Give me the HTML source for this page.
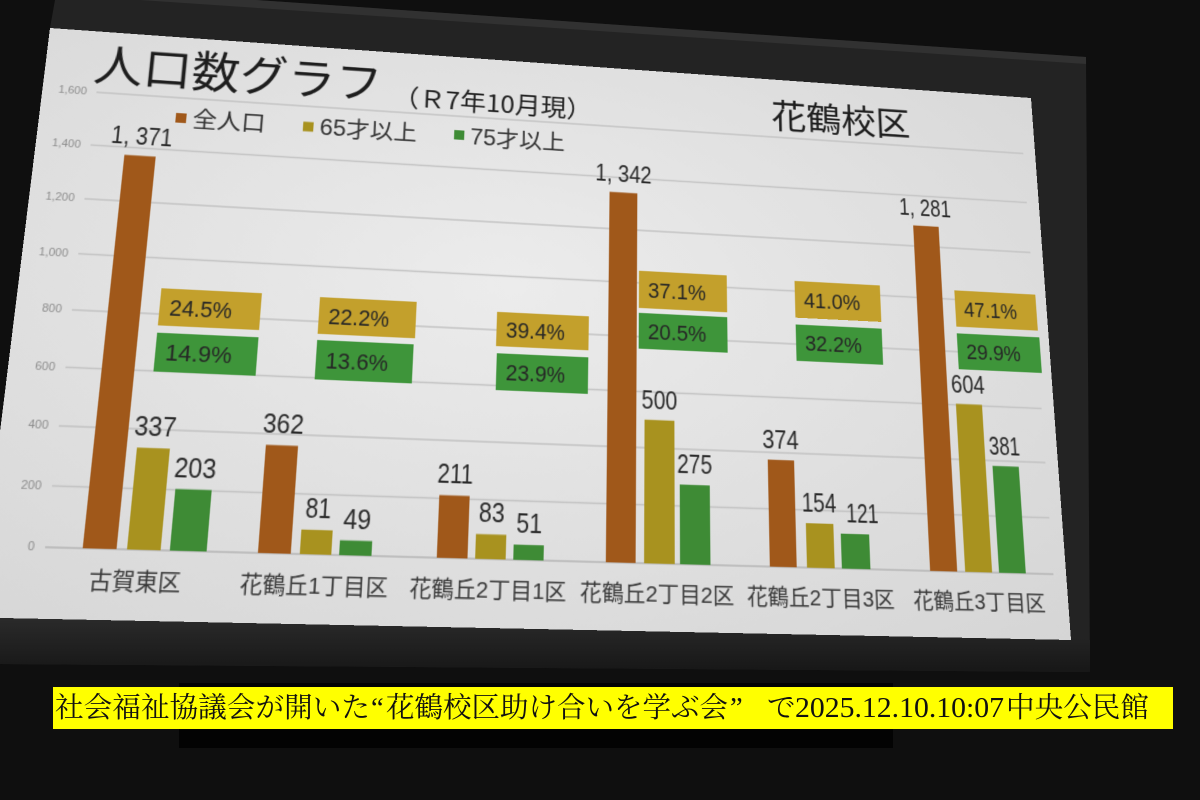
<!DOCTYPE html>
<html><head><meta charset="utf-8">
<style>
html,body{margin:0;padding:0;width:1200px;height:800px;overflow:hidden;background:#0e0e0e;}
#bg{position:absolute;left:0;top:0;}
#slide{position:absolute;left:0;top:0;width:1000px;height:562px;transform-origin:0 0;
transform:matrix3d(1.075921,0.079023,0,0.000092067,-0.125528,0.931742,0,-0.00018978,0,0,1,0,50,28,0,1);}
#slide svg{display:block;}
#cap{position:absolute;left:0;top:0;}
</style></head><body>
<svg id="bg" width="1200" height="800" xmlns="http://www.w3.org/2000/svg">
<defs>
<linearGradient id="bb" x1="0" y1="0" x2="0" y2="1">
<stop offset="0" stop-color="#2c2c2c"/><stop offset="1" stop-color="#171717"/>
</linearGradient>
</defs>
<rect width="1200" height="800" fill="#0f0f0f"/>
<polygon points="55,0 256,0 1086,57 1090,672 0,664 0,600 50,28" fill="#232323"/>
<polygon points="256,0 1086,57 1086,64 140,0" fill="#313131"/>
<polygon points="0,614 1071,636 1090,640 1090,672 0,664" fill="url(#bb)"/>
<rect x="179" y="683" width="714" height="65" fill="#030303"/>
<rect x="53" y="687" width="1120" height="42" fill="#ffff00"/>
</svg>

<div id="slide">
<svg width="1000" height="562" xmlns="http://www.w3.org/2000/svg" font-family="'Liberation Sans','Noto Sans CJK JP',sans-serif">
<defs>
<radialGradient id="sg" cx="0.45" cy="0.42" r="0.8">
<stop offset="0" stop-color="#ececec"/>
<stop offset="1" stop-color="#d5d5d5"/>
</radialGradient>
</defs>
<rect width="1000" height="562" fill="url(#sg)"/>

<g stroke="#c2c2c2" stroke-width="1.3">
<line x1="50" y1="64" x2="987" y2="64"/>
<line x1="50" y1="118.5" x2="987" y2="118.5"/>
<line x1="50" y1="173" x2="987" y2="173"/>
<line x1="50" y1="227.5" x2="987" y2="227.5"/>
<line x1="50" y1="282" x2="987" y2="282"/>
<line x1="50" y1="336.5" x2="987" y2="336.5"/>
<line x1="50" y1="391" x2="987" y2="391"/>
<line x1="50" y1="445.5" x2="987" y2="445.5"/>
<line x1="50" y1="500" x2="987" y2="500" stroke="#b4b4b4"/>
</g>

<g font-size="10.5" fill="#8c8c8c" text-anchor="end">
<text x="41" y="67.5">1,600</text>
<text x="41" y="122">1,400</text>
<text x="41" y="176.5">1,200</text>
<text x="41" y="231">1,000</text>
<text x="41" y="285.5">800</text>
<text x="41" y="340">600</text>
<text x="41" y="394.5">400</text>
<text x="41" y="449">200</text>
<text x="41" y="503.5">0</text>
</g>

<text x="45" y="51" font-size="46" fill="#1e1e1e" font-family="'Noto Sans CJK JP',sans-serif">人口数グラフ</text>
<text x="332" y="57" font-size="26" fill="#222" font-family="'Noto Sans CJK JP',sans-serif">（Ｒ7年10月現）</text>
<text x="717" y="54" font-size="37" fill="#1e1e1e" font-family="'Noto Sans CJK JP',sans-serif">花鶴校区</text>

<rect x="126" y="80" width="10" height="10" fill="#a0581a"/>
<text x="142" y="93.5" font-size="23" fill="#333">全人口</text>
<rect x="247" y="80.5" width="10" height="10" fill="#a8921f"/>
<text x="263" y="93.5" font-size="23" fill="#333">65才以上</text>
<rect x="394" y="79" width="10" height="10" fill="#3e8b35"/>
<text x="410" y="93" font-size="23" fill="#333">75才以上</text>

<g fill="#a0581a">
<rect x="82" y="126.4" width="29" height="373.6"/>
<rect x="234" y="401.4" width="29" height="98.6"/>
<rect x="394" y="442.5" width="28" height="57.5"/>
<rect x="550" y="134.3" width="28" height="365.7"/>
<rect x="706" y="398.1" width="26" height="101.9"/>
<rect x="863" y="150.9" width="27" height="349.1"/>
</g>
<g fill="#a8921f">
<rect x="120" y="408.2" width="29" height="91.8"/>
<rect x="271" y="477.9" width="28" height="22.1"/>
<rect x="429" y="477.4" width="28" height="22.6"/>
<rect x="586" y="363.8" width="29" height="136.2"/>
<rect x="742" y="458" width="27" height="42"/>
<rect x="898" y="335.4" width="27" height="164.6"/>
</g>
<g fill="#3e8b35">
<rect x="157" y="444.7" width="32" height="55.3"/>
<rect x="306" y="486.6" width="29" height="13.4"/>
<rect x="464" y="486.1" width="28" height="13.9"/>
<rect x="620" y="425.1" width="29" height="74.9"/>
<rect x="776" y="467" width="28" height="33"/>
<rect x="932" y="396.2" width="27" height="103.8"/>
</g>

<g font-size="26" fill="#2a2a2a" text-anchor="middle" font-family="'Liberation Sans Narrow','Liberation Sans',sans-serif" lengthAdjust="spacingAndGlyphs">
<text x="96.5" y="115.4" textLength="57" lengthAdjust="spacingAndGlyphs">1, 371</text>
<text x="134.5" y="397.2" textLength="37" lengthAdjust="spacingAndGlyphs">337</text>
<text x="173" y="433.7" textLength="37" lengthAdjust="spacingAndGlyphs">203</text>
<text x="248.5" y="390.4" textLength="37" lengthAdjust="spacingAndGlyphs">362</text>
<text x="285" y="466.9" textLength="23" lengthAdjust="spacingAndGlyphs">81</text>
<text x="320.5" y="475.6" textLength="25" lengthAdjust="spacingAndGlyphs">49</text>
<text x="408" y="431.5" textLength="33" lengthAdjust="spacingAndGlyphs">211</text>
<text x="443" y="466.4" textLength="24" lengthAdjust="spacingAndGlyphs">83</text>
<text x="478" y="475.1" textLength="24" lengthAdjust="spacingAndGlyphs">51</text>
<text x="564" y="123.3" textLength="57" lengthAdjust="spacingAndGlyphs">1, 342</text>
<text x="600.5" y="352.8" textLength="35" lengthAdjust="spacingAndGlyphs">500</text>
<text x="634.5" y="414.1" textLength="34" lengthAdjust="spacingAndGlyphs">275</text>
<text x="719" y="387.1" textLength="36" lengthAdjust="spacingAndGlyphs">374</text>
<text x="755.5" y="447" textLength="34" lengthAdjust="spacingAndGlyphs">154</text>
<text x="798" y="456" textLength="32" lengthAdjust="spacingAndGlyphs">121</text>
<text x="876.5" y="139.9" textLength="55" lengthAdjust="spacingAndGlyphs">1, 281</text>
<text x="911.5" y="324.4" textLength="35" lengthAdjust="spacingAndGlyphs">604</text>
<text x="945.5" y="385.2" textLength="32" lengthAdjust="spacingAndGlyphs">381</text>
</g>

<g fill="#c3a02c">
<rect x="128" y="257" width="92" height="36"/>
<rect x="274" y="258" width="91" height="36"/>
<rect x="442" y="264" width="89" height="34"/>
<rect x="580" y="215" width="88" height="38"/>
<rect x="737" y="217" width="88" height="38"/>
<rect x="903" y="218" width="86" height="38"/>
</g>
<g fill="#3e953a">
<rect x="128" y="300" width="92" height="37"/>
<rect x="274" y="300" width="90" height="38"/>
<rect x="443" y="305" width="88" height="36"/>
<rect x="580" y="258" width="88" height="36"/>
<rect x="737" y="262" width="88" height="37"/>
<rect x="903" y="263" width="87" height="37"/>
</g>
<g font-size="22" fill="#262626" font-family="'Liberation Sans Narrow','Liberation Sans',sans-serif">
<text x="137" y="283" textLength="57" lengthAdjust="spacingAndGlyphs">24.5%</text>
<text x="137" y="326.5" textLength="60" lengthAdjust="spacingAndGlyphs">14.9%</text>
<text x="283" y="284" textLength="57" lengthAdjust="spacingAndGlyphs">22.2%</text>
<text x="283" y="327" textLength="58" lengthAdjust="spacingAndGlyphs">13.6%</text>
<text x="451" y="289" textLength="57" lengthAdjust="spacingAndGlyphs">39.4%</text>
<text x="452" y="331" textLength="57" lengthAdjust="spacingAndGlyphs">23.9%</text>
<text x="589" y="242" textLength="58" lengthAdjust="spacingAndGlyphs">37.1%</text>
<text x="589" y="284" textLength="58" lengthAdjust="spacingAndGlyphs">20.5%</text>
<text x="746" y="244" textLength="58" lengthAdjust="spacingAndGlyphs">41.0%</text>
<text x="746" y="288.5" textLength="58" lengthAdjust="spacingAndGlyphs">32.2%</text>
<text x="912" y="245" textLength="56" lengthAdjust="spacingAndGlyphs">47.1%</text>
<text x="912" y="289.5" textLength="57" lengthAdjust="spacingAndGlyphs">29.9%</text>
</g>

<g font-size="21" fill="#383838" text-anchor="middle">
<text x="129.5" y="535" textLength="79" lengthAdjust="spacingAndGlyphs">古賀東区</text>
<text x="285.8" y="535" textLength="131" lengthAdjust="spacingAndGlyphs">花鶴丘1丁目区</text>
<text x="442" y="535" textLength="143" lengthAdjust="spacingAndGlyphs">花鶴丘2丁目1区</text>
<text x="598.8" y="535" textLength="145" lengthAdjust="spacingAndGlyphs">花鶴丘2丁目2区</text>
<text x="755" y="535" textLength="143" lengthAdjust="spacingAndGlyphs">花鶴丘2丁目3区</text>
<text x="911" y="535" textLength="132" lengthAdjust="spacingAndGlyphs">花鶴丘3丁目区</text>
</g>
</svg>
</div>

<svg id="cap" width="1200" height="800" xmlns="http://www.w3.org/2000/svg" font-family="'Liberation Serif','Noto Serif CJK SC',serif" font-size="28.5" fill="#111">
<text x="55" y="717" textLength="315" lengthAdjust="spacingAndGlyphs">社会福祉協議会が開いた</text>
<text x="371" y="717">“</text>
<text x="386" y="717" textLength="342" lengthAdjust="spacingAndGlyphs">花鶴校区助け合いを学ぶ会</text>
<text x="730" y="717">”</text>
<text x="767" y="717">で</text>
<text x="795" y="717" textLength="209" lengthAdjust="spacingAndGlyphs">2025.12.10.10:07</text>
<text x="1006" y="717" textLength="143" lengthAdjust="spacingAndGlyphs">中央公民館</text>
</svg>
</body></html>
